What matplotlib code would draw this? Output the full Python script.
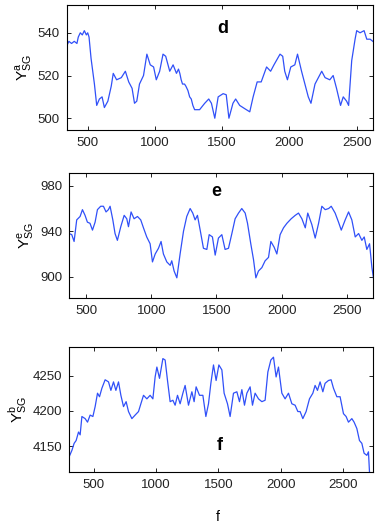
import matplotlib
matplotlib.use('Agg')
import matplotlib.pyplot as plt

plt.rcParams['font.family'] = ['Liberation Sans', 'DejaVu Sans']
plt.rcParams['mathtext.fontset'] = 'custom'
plt.rcParams['mathtext.rm'] = 'Liberation Sans'

# panel d
d_x = [345, 360, 380, 400, 420, 430, 445, 460, 475, 490, 500, 510, 525, 550, 567, 587, 607, 624,
       650, 675, 690, 715, 750, 780, 805, 830, 848, 865, 885, 915, 940, 965, 990, 1010, 1035, 1060,
       1080, 1110, 1135, 1160, 1175, 1185, 1195, 1205, 1220, 1230, 1245, 1258, 1270, 1282, 1295,
       1332, 1370, 1400, 1420, 1445, 1470,
       1507, 1530, 1550, 1580, 1600, 1630, 1667, 1705, 1730, 1760, 1790, 1830, 1860, 1885, 1930,
       1950, 1965, 1985, 2010, 2040, 2060, 2090, 2115, 2140, 2160, 2190, 2215, 2240, 2265, 2300,
       2325, 2350, 2380, 2400, 2425, 2440, 2463, 2488, 2500, 2525, 2555, 2575, 2600, 2620]
d_y = [534, 536, 535, 536, 535, 538, 540, 539, 541, 539, 540, 538, 528, 516, 506, 509, 510, 505,
       508, 515, 521, 518, 519, 522, 517, 514, 507, 508, 516, 520, 530, 525, 524, 518, 522, 530,
       529, 522, 525, 521, 523, 521, 518, 516, 516, 515, 513, 510, 509, 506, 504,
       504, 507, 509, 507, 500, 510,
       511.5, 511, 500, 507, 509, 506, 504.5, 503, 510, 517, 517, 524, 522, 525, 530,
       529, 522, 518, 524, 525, 530, 522, 516, 510, 507, 516, 519, 522, 519, 518,
       520, 514, 506, 510, 508, 506, 527, 537, 541, 540, 541, 537, 537, 536]

# panel e
e_x = [370, 390, 408, 428, 454, 472, 492, 510, 530, 549, 569, 587, 612, 633, 653, 671, 684, 705,
       722, 740, 766, 792, 812, 825, 845, 868, 894, 919, 940, 965, 991, 1009, 1030, 1055, 1075,
       1093, 1119, 1145, 1157, 1175, 1196, 1221, 1247, 1272, 1298, 1318, 1336, 1354, 1375, 1400,
       1426, 1444, 1469, 1490, 1515, 1541, 1566, 1592, 1618, 1643, 1669, 1694, 1720, 1738, 1763,
       1784, 1802, 1822, 1848, 1873, 1899, 1917, 1942, 1963, 1988, 2014, 2040, 2073, 2104, 2129,
       2155, 2181, 2200, 2231, 2257, 2283, 2308, 2334, 2360, 2380, 2410, 2436, 2457, 2487, 2513,
       2538, 2564, 2590, 2615, 2633, 2653, 2674, 2692, 2704, 2717]
e_y = [938, 937, 931, 950, 953, 959, 954, 948, 947, 941, 948, 959, 962, 962, 957, 959, 962, 950,
       938, 932, 944, 954, 951, 944, 957, 951, 953, 950, 943, 935, 929, 913, 920, 925, 931,
       920, 913, 910, 914, 905, 899, 920, 940, 953, 960, 956, 950, 954, 941, 925,
       924, 937, 935, 919, 934, 937, 924, 925, 938, 951, 956, 960, 956, 947, 929,
       915, 899, 905, 908, 914, 917, 931, 926, 920, 937, 943, 947, 951, 954, 956,
       951, 943, 956, 946, 934, 947, 962, 959, 960, 962, 956, 948, 941, 950, 957,
       950, 935, 938, 932, 935, 924, 929, 908, 899, 882]

# panel f
f_x = [305, 327, 345, 361, 380, 393, 407, 433, 452, 473, 495, 513, 532, 548, 567, 593, 620, 639,
       660, 679, 700, 719, 740, 761, 780, 807, 833, 860, 879, 900, 927, 953, 975, 993, 1007, 1028,
       1055, 1073, 1092, 1113, 1135, 1153, 1172, 1193, 1215, 1233, 1260, 1287, 1305, 1321, 1348,
       1375, 1399, 1420, 1439, 1460, 1481, 1503, 1527, 1545, 1572, 1593, 1620, 1647, 1668, 1687,
       1708, 1727, 1753, 1772, 1793, 1820, 1847, 1873, 1895, 1919, 1940, 1961, 1980, 2007, 2033,
       2060, 2087, 2113, 2135, 2153, 2175, 2201, 2228, 2255, 2273, 2292, 2313, 2335, 2353, 2380,
       2401, 2420, 2447, 2473, 2500, 2521, 2540, 2567, 2585, 2607, 2628, 2647, 2665, 2687, 2700, 2708]
f_y = [4135, 4144, 4154, 4158, 4170, 4166, 4192, 4189, 4184, 4194, 4192, 4206, 4225, 4220, 4232,
       4244, 4241, 4229, 4241, 4229, 4241, 4222, 4206, 4213, 4199, 4189, 4194, 4199, 4210, 4222,
       4217, 4222, 4217, 4248, 4262, 4246, 4274, 4272, 4243, 4213, 4215, 4208, 4222, 4210, 4225,
       4236, 4208, 4227, 4213, 4234, 4222, 4222, 4192, 4210, 4239, 4265, 4243, 4265, 4258, 4225,
       4210, 4192, 4225, 4227, 4213, 4230, 4208, 4225, 4234, 4208, 4225, 4217, 4213, 4215, 4255,
       4272, 4276, 4248, 4262, 4225, 4217, 4225, 4210, 4208, 4199, 4199, 4189, 4199, 4217, 4225,
       4236, 4229, 4241, 4227, 4239, 4243, 4244, 4232, 4220, 4220, 4196, 4192, 4184, 4189, 4184,
       4175, 4158, 4154, 4140, 4137, 4142, 4114]

line_color = '#3050f8'

panels = [
    dict(x=d_x, y=d_y, pos=[0.175, 0.7543, 0.801, 0.2362], xlim=(345, 2620), ylim=(494.5, 553),
         yticks=[500, 520, 540], sup='a', tag='d', tagpos=(1504, 542)),
    dict(x=e_x, y=e_y, pos=[0.181, 0.4372, 0.796, 0.2352], xlim=(370, 2702), ylim=(881.5, 991),
         yticks=[900, 940, 980], sup='e', tag='e', tagpos=(1498, 975)),
    dict(x=f_x, y=f_y, pos=[0.181, 0.1072, 0.796, 0.2363], xlim=(305, 2738), ylim=(4113, 4290),
         yticks=[4150, 4200, 4250], sup='b', tag='f', tagpos=(1514, 4151)),
]

fig = plt.figure(figsize=(3.82, 5.29), dpi=100)

for p in panels:
    ax = fig.add_axes(p['pos'])
    ax.plot(p['x'], p['y'], color=line_color, lw=0.9)
    ax.set_xlim(*p['xlim'])
    ax.set_ylim(*p['ylim'])
    ax.set_xticks([500, 1000, 1500, 2000, 2500])
    ax.set_yticks(p['yticks'])
    ax.tick_params(direction='in', top=True, right=True, labelsize=9.5,
                   length=3, width=0.6, colors='black', labelcolor='#222222', pad=5)
    for s in ax.spines.values():
        s.set_linewidth(0.8)
    ax.set_ylabel(r'$\mathrm{Y}^{\mathrm{%s}}_{\mathrm{SG}}$' % p['sup'], fontsize=11, labelpad=2)
    ax.text(p['tagpos'][0], p['tagpos'][1], p['tag'], fontsize=13, fontweight='bold',
            ha='center', va='center')

fig.text(0.571, 0.0227, 'f', fontsize=10, ha='center', va='center')

fig.savefig('out.png', dpi=100)
